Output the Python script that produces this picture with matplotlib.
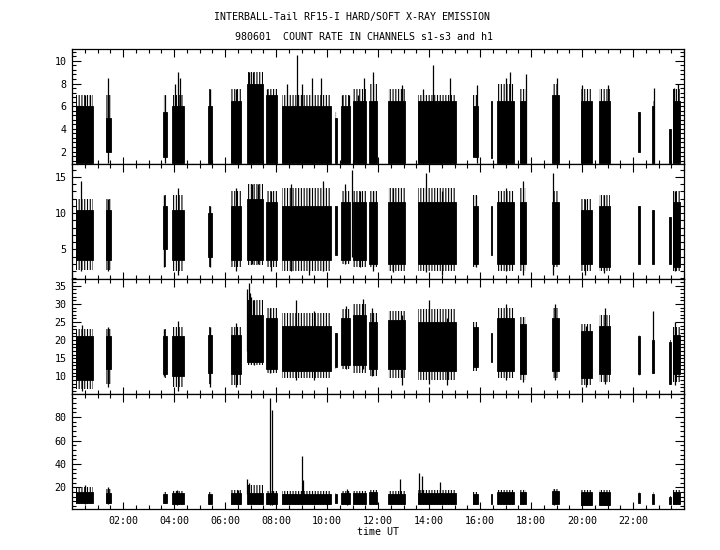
import matplotlib
matplotlib.use('Agg')
import matplotlib.pyplot as plt
from matplotlib.ticker import MultipleLocator, FuncFormatter

plt.rcParams['font.family'] = ['DejaVu Sans Mono']
plt.rcParams['font.size'] = 7.2
plt.rcParams['hatch.linewidth'] = 0.8

# burst intervals (hours UT), same for all four channels
burst_start = [0.16, 1.33, 3.56, 3.91, 5.35, 6.22, 6.85, 7.60, 8.25, 10.31, 10.55, 11.03, 11.65,
               12.40, 13.58, 15.74, 16.44, 16.68, 17.57, 18.84, 19.97, 20.68, 22.21, 22.76, 23.43, 23.58]
burst_end = [0.84, 1.52, 3.71, 4.40, 5.48, 6.62, 7.48, 8.03, 10.14, 10.40, 10.90, 11.53, 11.97,
             13.06, 15.06, 15.93, 16.48, 17.35, 17.79, 19.10, 20.40, 21.10, 22.27, 22.82, 23.48, 23.84]

# channel s1: dense core (lo..hi) and sparser outer fringe (flo..fhi)
s1_lo = [1.0, 2.0, 1.5, 1.0, 1.0, 1.0, 1.0, 1.0, 1.0, 1.0, 1.0, 1.0, 1.0,
         1.0, 1.0, 1.5, 1.4, 1.0, 1.0, 1.0, 1.0, 1.0, 2.0, 1.0, 1.0, 1.0]
s1_hi = [6.0, 5.0, 5.5, 6.0, 6.0, 6.5, 8.0, 7.0, 6.0, 5.0, 6.0, 6.5, 6.5,
         6.5, 6.5, 6.0, 6.5, 6.5, 6.5, 7.0, 6.5, 6.5, 5.5, 6.0, 4.0, 6.5]
s1_flo = s1_lo
s1_fhi = [7.0, 7.0, 7.0, 7.0, 7.5, 7.5, 9.0, 7.5, 7.0, 5.5, 7.0, 7.5, 8.0,
          7.5, 7.0, 7.0, 6.5, 8.0, 7.5, 8.0, 7.5, 7.5, 5.5, 6.5, 4.0, 7.5]
s1_spike_t = [0.5, 0.7, 1.42, 3.65, 4.05, 4.15, 4.25, 5.40, 6.45, 6.95, 7.1, 7.65, 8.45, 8.81,
              9.0, 9.4, 9.75, 10.6, 10.85, 11.2, 11.45, 11.82, 12.93, 13.75, 14.17, 14.82,
              15.87, 17.0, 17.18, 17.79, 19.0, 20.0, 21.0, 22.82, 23.6, 23.75]
s1_spike_lo = [1.0] * len(s1_spike_t)
s1_spike_hi = [7.0, 7.0, 8.5, 7.0, 8.0, 9.0, 8.5, 7.5, 7.5, 9.0, 9.0, 7.5, 8.0, 10.5,
               8.0, 8.5, 8.5, 7.0, 7.0, 7.0, 8.5, 9.0, 7.9, 7.5, 9.6, 8.5,
               7.9, 8.5, 9.0, 8.8, 8.5, 7.9, 7.9, 7.6, 7.6, 8.0]

# channel s2
s2_lo = [3.5, 3.5, 5.0, 3.5, 4.0, 3.5, 3.5, 3.5, 3.5, 4.2, 3.5, 3.5, 3.0,
         3.0, 3.0, 3.0, 4.2, 3.0, 3.0, 3.0, 3.0, 2.6, 3.0, 3.0, 3.0, 2.5]
s2_hi = [10.5, 10.5, 11.0, 10.5, 10.0, 11.0, 12.0, 11.5, 11.0, 11.0, 11.5, 11.5, 11.5,
         11.5, 11.5, 11.0, 11.0, 11.5, 11.5, 11.5, 10.5, 11.0, 11.0, 10.5, 9.5, 11.5]
s2_flo = [2.2, 2.2, 2.6, 2.0, 2.6, 2.5, 2.8, 2.5, 2.0, 4.2, 3.0, 2.5, 2.5,
          2.0, 2.0, 2.5, 4.2, 2.0, 2.0, 2.5, 2.0, 2.0, 3.0, 3.0, 3.0, 2.0]
s2_fhi = [12.0, 12.0, 12.5, 12.5, 11.0, 13.0, 14.0, 13.0, 13.5, 11.0, 13.0, 13.0, 13.0,
          13.5, 13.5, 12.5, 11.0, 13.0, 13.5, 13.0, 12.0, 12.5, 11.0, 10.5, 9.5, 13.0]
s2_spike_t = [0.35, 1.42, 3.62, 4.15, 5.4, 6.45, 7.05, 7.3, 7.8, 8.6, 9.3, 9.85, 10.7, 10.98,
              11.3, 11.8, 12.6, 13.88, 14.5, 15.85, 17.0, 17.7, 18.88, 20.1, 20.85, 23.65]
s2_spike_lo = [2.0, 2.0, 2.5, 1.5, 2.5, 2.0, 3.0, 3.0, 2.0, 2.0, 1.5, 2.0, 3.0, 4.0,
               2.5, 2.0, 1.8, 1.9, 1.5, 2.5, 2.0, 1.5, 1.5, 1.5, 1.7, 2.0]
s2_spike_hi = [14.5, 12.0, 12.5, 13.5, 11.0, 13.5, 14.0, 14.0, 13.0, 14.0, 13.5, 14.5, 14.0, 16.0,
               13.0, 13.0, 13.5, 15.5, 13.0, 12.5, 13.5, 14.5, 15.5, 12.0, 12.5, 13.0]

# channel s3
s3_lo = [9.0, 12.0, 10.5, 10.0, 11.0, 10.5, 14.0, 12.0, 11.5, 12.5, 13.0, 13.0, 12.0,
         12.0, 11.5, 12.5, 14.0, 11.5, 10.5, 11.5, 9.5, 10.5, 10.5, 11.0, 8.0, 10.5]
s3_hi = [21.0, 21.0, 21.0, 21.0, 21.5, 21.5, 27.0, 26.0, 24.0, 22.0, 26.0, 27.0, 25.0,
         25.5, 25.0, 23.5, 22.0, 26.0, 24.5, 26.0, 22.5, 24.0, 21.0, 20.0, 19.5, 21.5]
s3_flo = [6.5, 8.0, 9.5, 7.0, 8.0, 7.5, 13.0, 11.0, 9.5, 12.0, 12.0, 11.0, 10.0,
          9.5, 9.0, 11.5, 14.0, 9.5, 9.0, 9.5, 7.5, 8.5, 10.0, 10.5, 7.5, 8.5]
s3_fhi = [23.0, 23.0, 23.0, 23.5, 23.5, 23.5, 31.0, 29.0, 27.5, 22.0, 28.5, 30.0, 27.5,
          28.0, 28.5, 25.0, 22.0, 29.0, 26.5, 29.0, 24.5, 27.0, 21.5, 20.5, 20.0, 23.5]
s3_spike_t = [0.4, 1.42, 3.62, 4.15, 5.4, 6.45, 6.88, 6.93, 6.98, 7.03, 7.08, 7.15, 7.75, 8.78,
              9.5, 10.75, 11.4, 11.75, 12.95, 14.0, 14.7, 17.0, 17.7, 18.95, 20.15, 20.9,
              22.78, 23.65]
s3_spike_lo = [6.0, 7.0, 10.0, 6.0, 7.0, 7.0, 17.0, 16.0, 15.0, 15.0, 14.0, 13.0, 11.0, 9.0,
               9.0, 12.0, 12.0, 10.0, 7.5, 8.0, 7.5, 9.0, 8.5, 9.0, 7.0, 8.0,
               11.0, 7.5]
s3_spike_hi = [24.3, 23.5, 23.0, 25.2, 23.5, 24.6, 34.0, 35.8, 33.0, 32.0, 31.0, 31.0, 28.9, 31.0,
               28.0, 29.5, 31.5, 29.0, 27.0, 31.0, 26.0, 30.0, 26.5, 30.0, 24.0, 29.0,
               28.0, 25.0]

# channel h1
h1_lo = [7.0, 7.0, 7.0, 6.0, 6.0, 6.0, 6.0, 6.0, 6.0, 7.0, 6.0, 6.0, 6.0,
         6.0, 6.0, 6.0, 6.0, 6.0, 6.0, 6.0, 5.0, 5.0, 7.0, 6.0, 6.0, 6.0]
h1_hi = [16.0, 15.0, 14.0, 15.0, 14.5, 15.0, 15.0, 15.0, 14.5, 14.0, 15.0, 15.0, 16.0,
         14.5, 15.0, 14.5, 14.0, 16.0, 16.0, 17.0, 16.0, 16.0, 15.0, 14.0, 12.0, 16.0]
h1_flo = [5.5, 6.0, 6.0, 5.0, 5.0, 5.0, 5.0, 5.0, 5.0, 6.0, 5.0, 5.0, 5.0,
          5.0, 5.0, 5.0, 5.0, 5.0, 5.0, 5.0, 4.3, 4.3, 6.0, 5.0, 5.0, 5.0]
h1_fhi = [20.0, 19.0, 16.0, 17.0, 16.0, 17.5, 22.0, 17.0, 17.0, 15.0, 17.0, 17.0, 18.0,
          16.5, 18.0, 16.0, 14.0, 18.0, 18.0, 19.0, 18.0, 17.5, 16.0, 16.0, 13.0, 18.0]
h1_spike_t = [0.5, 1.42, 4.1, 6.5, 6.88, 6.95, 7.78, 7.83, 9.03, 9.07, 10.8, 12.86,
              13.62, 13.72, 14.45, 18.9]
h1_spike_lo = [6.0, 6.0, 5.0, 5.0, 14.0, 12.0, 5.0, 5.0, 8.0, 8.0, 5.0, 8.0,
               8.0, 8.0, 7.0, 5.0]
h1_spike_hi = [22.0, 20.0, 18.0, 18.0, 27.0, 24.0, 96.0, 86.0, 47.0, 26.0, 19.0, 27.0,
               32.0, 30.0, 25.0, 19.0]

panels = [
    (s1_lo, s1_hi, s1_flo, s1_fhi, s1_spike_t, s1_spike_lo, s1_spike_hi, (0.9, 11.05), 2, 0.4),
    (s2_lo, s2_hi, s2_flo, s2_fhi, s2_spike_t, s2_spike_lo, s2_spike_hi, (0.9, 16.8), 5, 1),
    (s3_lo, s3_hi, s3_flo, s3_fhi, s3_spike_t, s3_spike_lo, s3_spike_hi, (5.1, 36.9), 5, 1),
    (h1_lo, h1_hi, h1_flo, h1_fhi, h1_spike_t, h1_spike_lo, h1_spike_hi, (1.5, 99.7), 20, 4),
]

fig, axes = plt.subplots(4, 1, figsize=(7.2, 5.5), dpi=100, sharex=True)
fig.subplots_adjust(left=0.1, right=0.95, top=0.911, bottom=0.0745, hspace=0)

widths = [e - s for s, e in zip(burst_start, burst_end)]

for ax, (lo, hi, flo, fhi, st, slo, shi, ylim, major, minor) in zip(axes, panels):
    # sparse fringe drawn as dense vertical hatching
    ax.bar(burst_start, [b - a for a, b in zip(flo, fhi)], width=widths, bottom=flo,
           align='edge', facecolor='none', edgecolor='black', linewidth=0, hatch='|' * 6)
    # solid core of the count-rate noise
    ax.bar(burst_start, [b - a for a, b in zip(lo, hi)], width=widths, bottom=lo,
           align='edge', color='black', edgecolor='black', linewidth=0.6)
    ax.vlines(st, slo, shi, color='black', linewidth=0.9)
    ax.set_xlim(0, 24)
    ax.set_ylim(*ylim)
    ax.yaxis.set_major_locator(MultipleLocator(major))
    ax.yaxis.set_minor_locator(MultipleLocator(minor))
    ax.xaxis.set_major_locator(MultipleLocator(2))
    ax.xaxis.set_minor_locator(MultipleLocator(0.5))
    ax.tick_params(which='both', direction='in', top=True, right=True, width=0.8)
    ax.tick_params(axis='x', which='major', length=5.4, pad=5)
    ax.tick_params(axis='x', which='minor', length=2.6)
    ax.tick_params(axis='y', which='major', length=6.5, pad=4)
    ax.tick_params(axis='y', which='minor', length=2.8)
    for sp in ax.spines.values():
        sp.set_linewidth(0.9)

def hour_fmt(v, pos):
    if v <= 0 or v >= 24:
        return ''
    return '%02d:00' % int(round(v))

axes[-1].xaxis.set_major_formatter(FuncFormatter(hour_fmt))
axes[-1].set_xlabel('time UT', labelpad=1)

fig.text(352 / 720, 1 - 17 / 550, 'INTERBALL-Tail RF15-I HARD/SOFT X-RAY EMISSION',
         ha='center', va='center')
fig.text(364 / 720, 1 - 37 / 550, '980601  COUNT RATE IN CHANNELS s1-s3 and h1',
         ha='center', va='center')

fig.savefig('out.png', dpi=100)
